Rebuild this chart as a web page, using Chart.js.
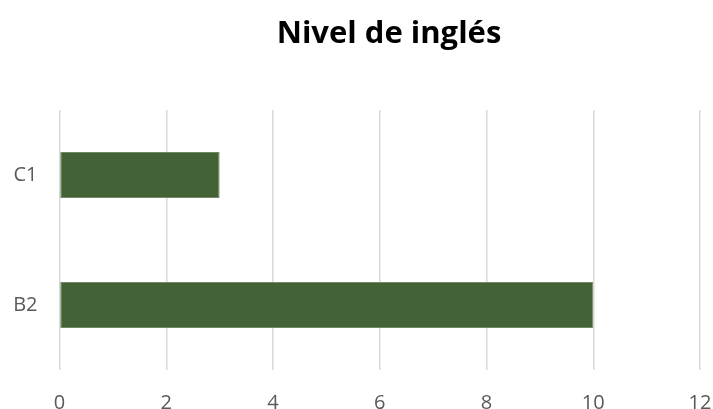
<!DOCTYPE html>
<html>
<head>
<meta charset="utf-8">
<script src="https://cdn.jsdelivr.net/npm/chart.js@4/dist/chart.umd.min.js"></script>
<style>
  html, body { margin: 0; padding: 0; background: #fff; }
  #wrap { width: 713px; height: 409px; }
</style>
</head>
<body>
<div id="wrap"><canvas id="chartIngles"></canvas></div>
<script>
// Datos
var niveles = ['C1', 'B2'];
var personas = [3, 10];
var ejeX = [0, 2, 4, 6, 8, 10, 12];

var titulo = 'Nivel de inglés';

// Título dibujado a mano, algo desplazado a la derecha como en Excel
var tituloPlugin = {
  id: 'tituloPlugin',
  afterDraw: function(chart) {
    var ctx = chart.ctx;
    ctx.save();
    ctx.font = 'bold 31px "Open Sans"';
    ctx.fillStyle = '#000000';
    ctx.textAlign = 'center';
    ctx.textBaseline = 'alphabetic';
    ctx.fillText(titulo, 389, 43);
    ctx.restore();
  }
};

new Chart(document.getElementById('chartIngles'), {
  type: 'bar',
  data: {
    labels: niveles,
    datasets: [{
      label: 'Personas',
      data: personas,
      backgroundColor: '#436235',
      borderColor: '#6f8b62',
      borderWidth: 1,
      borderSkipped: false,
      barPercentage: 0.354,
      categoryPercentage: 1
    }]
  },
  options: {
    responsive: true,
    maintainAspectRatio: false,
    animation: false,
    indexAxis: 'y',
    layout: {
      padding: { top: 110, right: 13, bottom: 0, left: 0 }
    },
    plugins: {
      legend: { display: false },
      tooltip: { enabled: false }
    },
    scales: {
      x: {
        min: 0,
        max: 12,
        afterBuildTicks: function(scale) {
          scale.ticks = ejeX.map(function(v) { return { value: v }; });
        },
        afterFit: function(scale) {
          scale.height = 39;
          scale.paddingLeft = 0;
          scale.paddingRight = 0;
        },
        grid: { color: '#d9d9d9', lineWidth: 1.5, drawTicks: false },
        border: { display: false },
        ticks: {
          color: '#595959',
          font: { family: '"Open Sans"', size: 20 },
          padding: 21
        }
      },
      y: {
        afterFit: function(scale) { scale.width = 59.5; },
        grid: { display: false, drawTicks: false },
        border: { display: false },
        ticks: {
          color: '#595959',
          font: { family: '"Open Sans"', size: 20 },
          padding: 22
        }
      }
    }
  },
  plugins: [tituloPlugin]
});
</script>
</body>
</html>
